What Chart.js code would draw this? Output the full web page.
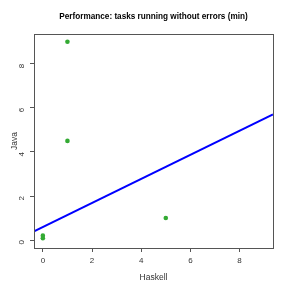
<!DOCTYPE html>
<html>
<head>
<meta charset="utf-8">
<script src="https://cdn.jsdelivr.net/npm/chart.js@4"></script>
<style>
  html, body { margin: 0; padding: 0; background: #fff; }
  #wrap { width: 291px; height: 291px; }
</style>
</head>
<body>
<div id="wrap"><canvas id="myChart" width="291" height="291"></canvas></div>
<script>
// points
const haskell = [0, 0, 1, 1, 5];
const java = [0.08, 0.2, 9, 4.5, 1];
// fitted line, taken at both ends of the plot range
const fitX = [-0.36, 9.36];
const fitY = [0.39, 5.70];
const tickValues = [0, 2, 4, 6, 8];
const axisMin = -0.36;
const axisMax = 9.36;

const points = haskell.map((x, i) => ({x: x, y: java[i]}));
const fitLine = fitX.map((x, i) => ({x: x, y: fitY[i]}));

// box around the plotting area, like R does
const boxPlugin = {
    id: 'box',
    afterDraw(chart) {
        const a = chart.chartArea;
        const ctx = chart.ctx;
        ctx.save();
        ctx.strokeStyle = '#555';
        ctx.lineWidth = 1;
        ctx.strokeRect(Math.round(a.left) + 0.5, Math.round(a.top) + 0.5,
            Math.round(a.right - a.left), Math.round(a.bottom - a.top));
        ctx.restore();
    }
};

const fixTicks = (scale) => {
    scale.ticks = tickValues.map(v => ({value: v}));
};

const tickFont = {family: 'Liberation Sans', size: 8};

var ctx = document.getElementById('myChart').getContext('2d');
var myChart = new Chart(ctx, {
    type: 'scatter',
    data: {
        datasets: [
            {
                data: points,
                backgroundColor: '#33aa33',
                borderColor: '#33aa33',
                pointRadius: 2.3,
                pointBorderWidth: 0
            },
            {
                data: fitLine,
                showLine: true,
                borderColor: '#0000ff',
                borderWidth: 2,
                pointRadius: 0
            }
        ]
    },
    options: {
        responsive: false,
        animation: false,
        events: [],
        layout: {padding: {left: 0, right: 18, top: 0, bottom: 0}},
        plugins: {
            legend: {display: false},
            tooltip: {enabled: false},
            title: {
                display: true,
                fullSize: false,
                text: 'Performance: tasks running without errors (min)',
                color: '#000',
                font: {family: 'Liberation Sans', size: 8.2, weight: 'bold'},
                padding: {top: 12, bottom: 12}
            }
        },
        scales: {
            x: {
                type: 'linear',
                min: axisMin,
                max: axisMax,
                afterBuildTicks: fixTicks,
                afterFit: (scale) => { scale.height = 43; },
                grid: {drawOnChartArea: false, drawTicks: true, tickLength: 4, color: '#555', tickColor: '#555'},
                border: {display: false},
                ticks: {color: '#333', font: tickFont, padding: 4, maxRotation: 0},
                title: {
                    display: true,
                    text: 'Haskell',
                    color: '#333',
                    font: {family: 'Liberation Sans', size: 8.5},
                    padding: {top: 0, bottom: 8}
                }
            },
            y: {
                type: 'linear',
                min: axisMin,
                max: axisMax,
                afterBuildTicks: fixTicks,
                afterFit: (scale) => { scale.width = 34; },
                grid: {drawOnChartArea: false, drawTicks: true, tickLength: 4, color: '#555', tickColor: '#555'},
                border: {display: false},
                ticks: {color: '#333', font: tickFont, padding: 8, minRotation: 90, maxRotation: 90},
                title: {
                    display: true,
                    text: 'Java',
                    color: '#333',
                    font: {family: 'Liberation Sans', size: 8.5},
                    padding: {top: 10, bottom: 0}
                }
            }
        }
    },
    plugins: [boxPlugin]
});
</script>
</body>
</html>
